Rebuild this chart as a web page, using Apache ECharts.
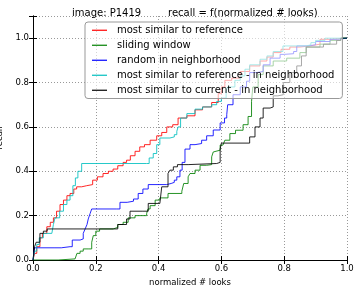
<!DOCTYPE html>
<html>
<head>
<meta charset="utf-8">
<script src="https://cdn.jsdelivr.net/npm/echarts@6/dist/echarts.min.js"></script>
<style>html,body{margin:0;padding:0;background:#fff}#c{width:360px;height:288px}</style>
</head>
<body>
<div id="c"></div>
<script>
const seriesNames = [
  "most similar to reference",
  "sliding window",
  "random in neighborhood",
  "most similar to reference - in neighborhood",
  "most similar to current - in neighborhood"
];
const seriesColors = ["#ff0000", "#008000", "#0000ff", "#00bfbf", "#000000"];
const xTicks = [0, 0.2, 0.4, 0.6, 0.8, 1.0];
const yTicks = [0, 0.2, 0.4, 0.6, 0.8, 1.0];

// [normalized # looks, recall] step points
const simRef = [[0,0],[0.005,0.03],[0.012,0.06],[0.022,0.10],[0.03,0.12],[0.044,0.15],[0.055,0.17],[0.065,0.19],[0.075,0.22],[0.086,0.25],[0.097,0.27],[0.108,0.29],[0.118,0.30],[0.13,0.32],[0.139,0.33],[0.155,0.335],[0.171,0.34],[0.19,0.36],[0.205,0.375],[0.223,0.39],[0.24,0.40],[0.255,0.41],[0.27,0.425],[0.287,0.44],[0.298,0.45],[0.31,0.47],[0.325,0.49],[0.34,0.51],[0.355,0.52],[0.373,0.54],[0.394,0.56],[0.41,0.575],[0.426,0.60],[0.445,0.61],[0.462,0.64],[0.49,0.65],[0.516,0.677],[0.54,0.69],[0.569,0.71],[0.59,0.75],[0.60,0.78],[0.611,0.81],[0.633,0.82],[0.66,0.85],[0.69,0.875],[0.723,0.897],[0.745,0.915],[0.765,0.935],[0.79,0.95],[0.818,0.96],[0.85,0.965],[0.882,0.973],[0.914,0.995],[0.95,0.998],[0.978,1.0],[1.0,1.0]];
const slidingWindow = [[0,0],[0.08,0.005],[0.134,0.005],[0.14,0.03],[0.15,0.04],[0.16,0.05],[0.178,0.05],[0.187,0.08],[0.192,0.11],[0.20,0.13],[0.212,0.14],[0.255,0.147],[0.27,0.16],[0.287,0.17],[0.303,0.19],[0.325,0.20],[0.362,0.21],[0.366,0.23],[0.373,0.245],[0.389,0.27],[0.404,0.28],[0.43,0.30],[0.474,0.31],[0.48,0.345],[0.494,0.375],[0.50,0.39],[0.516,0.405],[0.532,0.427],[0.553,0.43],[0.569,0.465],[0.574,0.487],[0.58,0.495],[0.596,0.518],[0.605,0.526],[0.611,0.54],[0.627,0.57],[0.645,0.585],[0.669,0.61],[0.685,0.647],[0.696,0.715],[0.70,0.78],[0.717,0.836],[0.733,0.875],[0.765,0.897],[0.808,0.91],[0.85,0.935],[0.87,0.96],[0.914,0.973],[0.946,0.99],[0.98,1.0],[1.0,1.0]];
const randomNbh = [[0,0],[0.005,0.055],[0.07,0.055],[0.09,0.06],[0.118,0.06],[0.125,0.09],[0.15,0.095],[0.16,0.12],[0.166,0.14],[0.172,0.16],[0.176,0.185],[0.182,0.21],[0.187,0.23],[0.267,0.23],[0.277,0.26],[0.30,0.265],[0.32,0.275],[0.335,0.30],[0.35,0.32],[0.367,0.34],[0.426,0.345],[0.44,0.35],[0.45,0.36],[0.458,0.375],[0.468,0.405],[0.475,0.44],[0.484,0.50],[0.50,0.52],[0.516,0.525],[0.537,0.54],[0.553,0.56],[0.574,0.586],[0.596,0.618],[0.61,0.64],[0.617,0.655],[0.62,0.70],[0.637,0.745],[0.66,0.78],[0.68,0.806],[0.69,0.845],[0.712,0.85],[0.733,0.88],[0.755,0.91],[0.787,0.927],[0.80,0.93],[0.83,0.94],[0.84,0.965],[0.87,0.97],[0.90,0.985],[0.946,0.995],[0.97,1.0],[1.0,1.0]];
const simRefNbh = [[0,0],[0.005,0.04],[0.012,0.07],[0.02,0.10],[0.033,0.12],[0.06,0.125],[0.065,0.16],[0.07,0.19],[0.085,0.22],[0.097,0.25],[0.108,0.27],[0.118,0.29],[0.127,0.335],[0.135,0.37],[0.143,0.40],[0.155,0.435],[0.362,0.435],[0.37,0.46],[0.383,0.48],[0.394,0.52],[0.404,0.55],[0.436,0.555],[0.45,0.565],[0.458,0.58],[0.462,0.60],[0.47,0.64],[0.49,0.66],[0.516,0.68],[0.54,0.69],[0.569,0.70],[0.585,0.715],[0.60,0.73],[0.615,0.76],[0.62,0.78],[0.643,0.81],[0.66,0.83],[0.675,0.86],[0.69,0.88],[0.723,0.905],[0.745,0.92],[0.765,0.94],[0.796,0.965],[0.87,0.97],[0.885,0.98],[0.90,0.99],[0.93,1.0],[1.0,1.0]];
const simCurNbh = [[0,0],[0.005,0.06],[0.01,0.08],[0.022,0.12],[0.033,0.13],[0.045,0.14],[0.256,0.14],[0.27,0.16],[0.298,0.185],[0.309,0.22],[0.35,0.22],[0.367,0.255],[0.404,0.26],[0.41,0.33],[0.43,0.39],[0.436,0.405],[0.447,0.42],[0.46,0.43],[0.494,0.435],[0.585,0.44],[0.596,0.50],[0.60,0.527],[0.69,0.555],[0.707,0.60],[0.723,0.64],[0.733,0.685],[0.755,0.69],[0.765,0.74],[0.78,0.745],[0.797,0.80],[0.818,0.845],[0.84,0.875],[0.855,0.92],[0.87,0.96],[0.925,0.973],[0.967,0.99],[0.98,1.0],[1.0,1.0]];

const seriesData = [simRef, slidingWindow, randomNbh, simRefNbh, simCurNbh];

const FONT = "DejaVu Sans";
const chart = echarts.init(document.getElementById('c'), null, {renderer: 'canvas'});
const fmt = v => {
  const ok = yTicks.some(t => Math.abs(t - v) < 1e-9) || xTicks.some(t => Math.abs(t - v) < 1e-9);
  return ok ? v.toFixed(1) : '';
};
const baseAxis = {
  axisLine: {show: true, onZero: false, lineStyle: {color: '#000', width: 1}},
  axisTick: {show: true, inside: true, length: 4, lineStyle: {color: '#000'}},
  axisLabel: {fontFamily: FONT, fontSize: 8.5, color: '#000', formatter: fmt},
  splitLine: {show: true, lineStyle: {color: '#999', type: [1, 2], width: 1}}
};
chart.setOption({
  animation: false,
  backgroundColor: '#fff',
  title: [
    {text: 'image: P1419', left: 67, top: 3, textStyle: {fontFamily: FONT, fontSize: 10, fontWeight: 'normal', color: '#000'}},
    {text: 'recall = f(normalized # looks)', left: 163, top: 3, textStyle: {fontFamily: FONT, fontSize: 10, fontWeight: 'normal', color: '#000'}}
  ],
  grid: {left: 33, right: 13, top: 16, bottom: 28, containLabel: false, outerBoundsMode: 'none'},
  legend: {
    orient: 'vertical',
    left: 85, top: 22,
    padding: [1, 8, 1, 7],
    itemGap: 0.5,
    itemWidth: 15, itemHeight: 1.2,
    icon: 'rect',
    backgroundColor: 'rgba(255,255,255,0.6)',
    borderColor: '#999', borderWidth: 1, borderRadius: 3,
    textStyle: {fontFamily: FONT, fontSize: 10, color: '#000', lineHeight: 14.5, padding: [0, 0, 0, 5]},
    data: seriesNames
  },
  xAxis: [
    Object.assign({}, baseAxis, {type: 'value', min: 0, max: 1, interval: 0.2,
      name: 'normalized # looks', nameLocation: 'middle', nameGap: 15,
      nameTextStyle: {fontFamily: FONT, fontSize: 8.5, color: '#000'},
      axisLabel: Object.assign({}, baseAxis.axisLabel, {margin: 4})}),
    {type: 'value', min: 0, max: 1, interval: 0.2, position: 'top',
      axisLine: {show: true, lineStyle: {color: '#000'}},
      axisTick: {show: true, inside: true, length: 4, lineStyle: {color: '#000'}},
      axisLabel: {show: false}, splitLine: {show: false}}
  ],
  yAxis: [
    Object.assign({}, baseAxis, {type: 'value', min: 0, max: 1.1, interval: 0.2,
      name: 'recall', nameLocation: 'middle', nameGap: 17, nameRotate: 90,
      nameTextStyle: {fontFamily: FONT, fontSize: 8.5, color: '#000'},
      axisLabel: Object.assign({}, baseAxis.axisLabel, {margin: 4})}),
    {type: 'value', min: 0, max: 1.1, interval: 0.2, position: 'right',
      axisLine: {show: true, lineStyle: {color: '#000'}},
      axisTick: {show: true, inside: true, length: 4, lineStyle: {color: '#000'}},
      axisLabel: {show: false}, splitLine: {show: false}}
  ],
  series: seriesNames.map((n, i) => ({
    name: n,
    type: 'line',
    step: 'end',
    xAxisIndex: 0, yAxisIndex: 0,
    showSymbol: false, symbol: 'none',
    data: seriesData[i],
    itemStyle: {color: seriesColors[i]},
    lineStyle: {color: seriesColors[i], width: 1, opacity: 0.85}
  }))
});
</script>
</body>
</html>
